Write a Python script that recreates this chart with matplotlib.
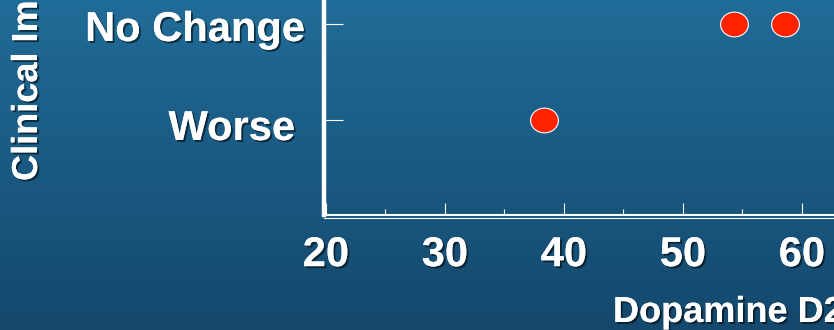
import numpy as np
import matplotlib
matplotlib.use("Agg")
import matplotlib.pyplot as plt
import matplotlib.patheffects as pe
from matplotlib.path import Path
from matplotlib.markers import MarkerStyle
from matplotlib.transforms import Affine2D, ScaledTranslation, blended_transform_factory
from matplotlib.lines import Line2D

# Outcome categories on the y axis (ordinal scale)
outcome_labels = ["Worse", "No Change", "Improved"]
outcome_levels = [1, 2, 3]

# Patient observations: receptor occupancy (%) vs. outcome level
occupancy = [38.3, 54.3, 58.6]
outcome = [1, 2, 2]

x_major = [20, 30, 40, 50, 60, 70, 80, 90, 100]

FONT = "Liberation Sans"
WHITE = "white"
shadow = [pe.withSimplePatchShadow(offset=(1.4, -1.4), shadow_rgbFace="black", alpha=0.55),
          pe.Normal()]

fig = plt.figure(figsize=(8.34, 3.30), dpi=100)

# Slide background: vertical blue gradient
bg = fig.add_axes([0, 0, 1, 1], zorder=-10)
top = np.array([32, 108, 152]) / 255
bottom = np.array([20, 72, 108]) / 255
t = np.linspace(0, 1, 256)[:, None]
grad = top[None, None, :] * (1 - t[..., None]) + bottom[None, None, :] * t[..., None]
grad = np.repeat(grad, 2, axis=1)
bg.imshow(grad, aspect="auto", extent=[0, 1, 0, 1], interpolation="bilinear")
bg.set_axis_off()

# Plot area (extends past the right and top edges of the canvas)
px_x = 11.9     # pixels per x unit
px_y = 95.5     # pixels per y unit
x_lo, x_hi = 19.8, 100
y_lo, y_hi = 0, 3.5
left_px, bottom_px = 323.5, 215
ax = fig.add_axes([left_px / 834, (330 - bottom_px) / 330,
                   (x_hi - x_lo) * px_x / 834, (y_hi - y_lo) * px_y / 330])
ax.set_facecolor("none")
ax.set_xlim(x_lo, x_hi)
ax.set_ylim(y_lo, y_hi)

for side in ("top", "right"):
    ax.spines[side].set_visible(False)
ax.spines["left"].set_color(WHITE)
ax.spines["left"].set_linewidth(3.2)
ax.spines["bottom"].set_color(WHITE)
ax.spines["bottom"].set_linewidth(1.5)

# Thin second rule under the x axis
under = Line2D([0.0, 1.0], [0, 0], color=WHITE, lw=0.8, clip_on=False,
               transform=ax.transAxes + ScaledTranslation(0, -3.4 / 100, fig.dpi_scale_trans))
ax.add_line(under)

# Elliptical markers
ell = Path.unit_circle().transformed(Affine2D().scale(1.0, 0.89))
ax.scatter(occupancy, outcome, s=400, marker=MarkerStyle(ell), color="#ff2200",
           edgecolors=WHITE, linewidths=0.8, zorder=5, clip_on=False)

# X ticks
ax.set_xticks(x_major)
ax.set_xticks(np.arange(25, 100, 10), minor=True)
ax.set_xticklabels([str(v) for v in x_major])
ax.tick_params(axis="x", which="major", direction="in", length=8.6, width=0.8,
               color=WHITE, pad=14.5, labelsize=30, labelcolor=WHITE)
ax.tick_params(axis="x", which="minor", direction="in", length=4.5, width=0.8, color=WHITE)
for lab in ax.get_xticklabels():
    lab.set_fontfamily(FONT)
    lab.set_fontweight("bold")
    lab.set_path_effects(shadow)

# Y ticks with category names
ax.set_yticks(outcome_levels)
ax.set_yticklabels([])
ax.tick_params(axis="y", direction="in", length=13.7, width=0.8, color=WHITE)
label_offsets = {"Worse": (-28.5, -20.5), "No Change": (-18.5, -17), "Improved": (-18.5, -17)}
ytrans = blended_transform_factory(ax.transAxes, ax.transData)
for lvl, name in zip(outcome_levels, outcome_labels):
    dx, dy = label_offsets[name]
    ax.text(0, lvl, name, ha="right", va="baseline", fontsize=30, fontweight="bold",
            family=FONT, color=WHITE, path_effects=shadow, clip_on=False,
            transform=ytrans + ScaledTranslation(dx / 100, dy / 100, fig.dpi_scale_trans))

# Axis titles
ax.set_xlabel("Dopamine D2 Receptor Occupancy (%)", fontsize=26, fontweight="bold",
              family=FONT, color=WHITE, ha="left", va="baseline", path_effects=shadow)
ax.xaxis.set_label_coords(613 / 834, (330 - 322) / 330, transform=fig.transFigure)
ax.set_ylabel("Clinical Improvement", fontsize=26, fontweight="bold",
              family=FONT, color=WHITE, ha="left", va="top", path_effects=shadow)
ax.yaxis.set_label_coords(10 / 834, (330 - 181) / 330, transform=fig.transFigure)

fig.savefig("out.png", dpi=100)
